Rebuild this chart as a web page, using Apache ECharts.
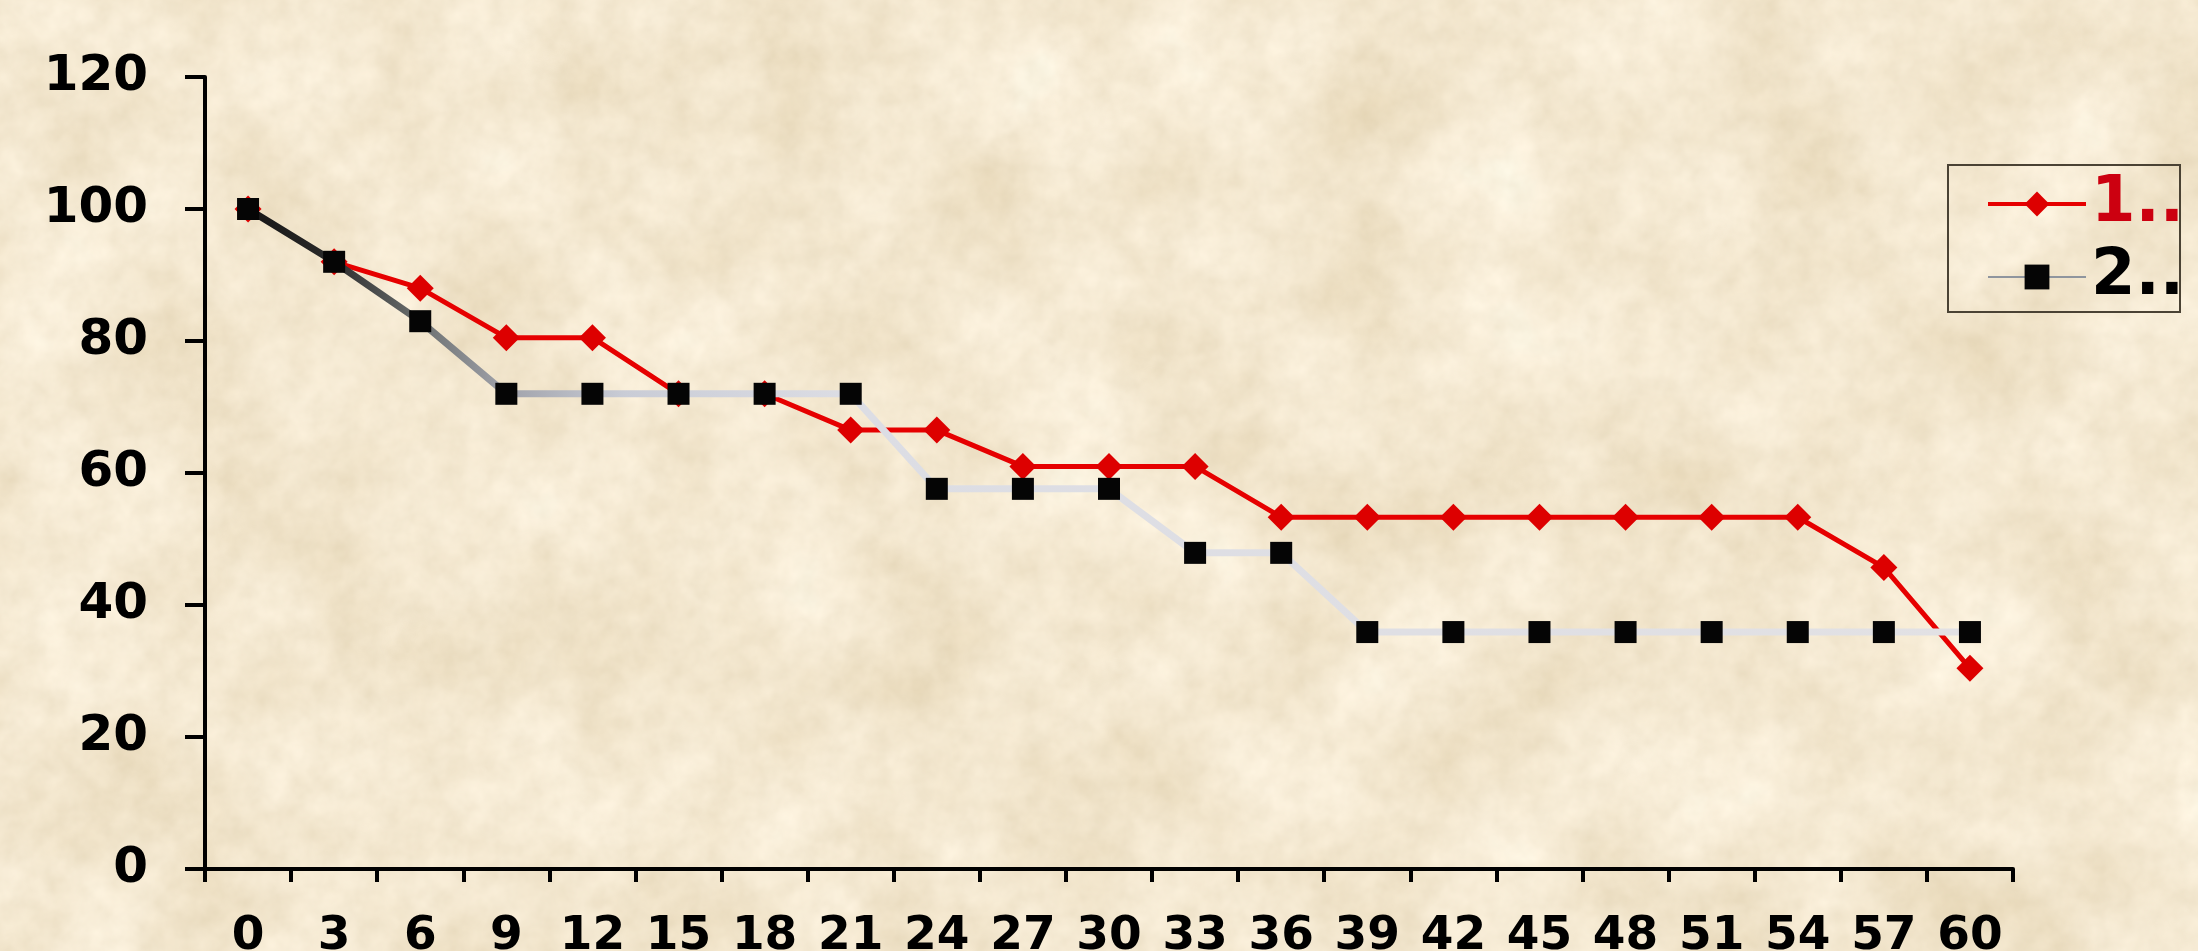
<!DOCTYPE html>
<html>
<head>
<meta charset="utf-8">
<script src="https://cdn.jsdelivr.net/npm/echarts@6/dist/echarts.min.js"></script>
<style>
  html, body { margin: 0; padding: 0; }
  body {
    width: 2198px; height: 951px; overflow: hidden;
    background-color: #ebd5aa;
    background-image: url("data:image/svg+xml;utf8,<svg xmlns='http://www.w3.org/2000/svg' width='2198' height='951'><filter id='n'><feTurbulence type='fractalNoise' baseFrequency='0.007' numOctaves='5' seed='7'/><feColorMatrix type='matrix' values='0.3 0 0 0 0.78  0.36 0 0 0 0.655  0.46 0 0 0 0.44  0 0 0 0 1'/></filter><filter id='m'><feTurbulence type='fractalNoise' baseFrequency='0.045' numOctaves='3' seed='2'/><feColorMatrix type='matrix' values='0.5 0 0 0 0.55  0.5 0 0 0 0.45  0.5 0 0 0 0.25  0 0 0 0 0.22'/></filter><rect width='100%' height='100%' filter='url(%23n)'/><rect width='100%' height='100%' filter='url(%23m)'/></svg>");
  }
  #chart { width: 2198px; height: 951px; }
</style>
</head>
<body>
<div id="chart"></div>
<script>
// ---- data ----
var categories = ['0','3','6','9','12','15','18','21','24','27','30','33','36','39','42','45','48','51','54','57','60'];
var series1Name = '1..';
var series2Name = '2..';
var series1 = [100, 92, 88, 80.5, 80.5, 72, 72, 66.5, 66.5, 61, 61, 61, 53.3, 53.3, 53.3, 53.3, 53.3, 53.3, 53.3, 45.7, 30.4];
var series2 = [100, 92, 83, 72, 72, 72, 72, 72, 57.6, 57.6, 57.6, 47.9, 47.9, 35.9, 35.9, 35.9, 35.9, 35.9, 35.9, 35.9, 35.9];
var yTicks = { min: 0, max: 120, interval: 20 };

// ---- chart ----
var chart = echarts.init(document.getElementById('chart'), null, { renderer: 'canvas' });
var FONT = 'DejaVu Sans';
var option = {
  backgroundColor: 'transparent',
  animation: false,
  grid: { left: 205, top: 77, width: 1808, height: 792, containLabel: false, outerBoundsMode: 'none' },
  xAxis: {
    type: 'category',
    data: categories,
    boundaryGap: true,
    axisLine: { show: true, lineStyle: { color: '#000', width: 4 } },
    axisTick: { show: true, length: 13, inside: false, lineStyle: { color: '#000', width: 4 } },
    axisLabel: { interval: 0, margin: 44, color: '#000', fontFamily: FONT, fontWeight: 'bold', fontSize: 47 },
    splitLine: { show: false }
  },
  yAxis: {
    type: 'value',
    min: yTicks.min, max: yTicks.max, interval: yTicks.interval,
    axisLine: { show: true, lineStyle: { color: '#000', width: 4 } },
    axisTick: { show: true, length: 20, inside: false, lineStyle: { color: '#000', width: 4 } },
    axisLabel: { margin: 57, color: '#000', fontFamily: FONT, fontWeight: 'bold', fontSize: 50 },
    splitLine: { show: false }
  },
  legend: {
    orient: 'vertical',
    left: 1986, top: 172,
    padding: 0,
    itemWidth: 98, itemHeight: 31, itemGap: 9,
    textStyle: { fontFamily: FONT, fontWeight: 'bold', fontSize: 64, lineHeight: 64 },
    data: [
      { name: series1Name, textStyle: { color: '#cc0010' }, lineStyle: { color: '#e60000', width: 4 } },
      { name: series2Name, textStyle: { color: '#000' }, lineStyle: { color: '#8f959e', width: 2 } }
    ]
  },
  graphic: [{
    type: 'rect', z: 0,
    shape: { x: 1948, y: 165, width: 232, height: 147 },
    style: { fill: 'none', stroke: '#4a4234', lineWidth: 2 }
  }],
  series: [
    {
      name: series1Name, type: 'line', data: series1,
      symbol: 'diamond', symbolSize: 27,
      lineStyle: { color: '#e60000', width: 5 },
      itemStyle: { color: '#dd0000' },
      z: 2
    },
    {
      name: series2Name, type: 'line', data: series2,
      symbol: 'rect', symbolSize: 22,
      lineStyle: {
        width: 7,
        color: {
          type: 'linear', x: 0, y: 0, x2: 1, y2: 0,
          colorStops: [
            { offset: 0, color: '#151515' },
            { offset: 0.05, color: '#2a2a2a' },
            { offset: 0.1, color: '#6a6e6e' },
            { offset: 0.15, color: '#a0a2aa' },
            { offset: 0.22, color: '#c9ccd6' },
            { offset: 0.35, color: '#dcdde4' },
            { offset: 1, color: '#e2e1e4' }
          ]
        }
      },
      itemStyle: { color: '#050505' },
      z: 3
    }
  ]
};
chart.setOption(option);
</script>
</body>
</html>
